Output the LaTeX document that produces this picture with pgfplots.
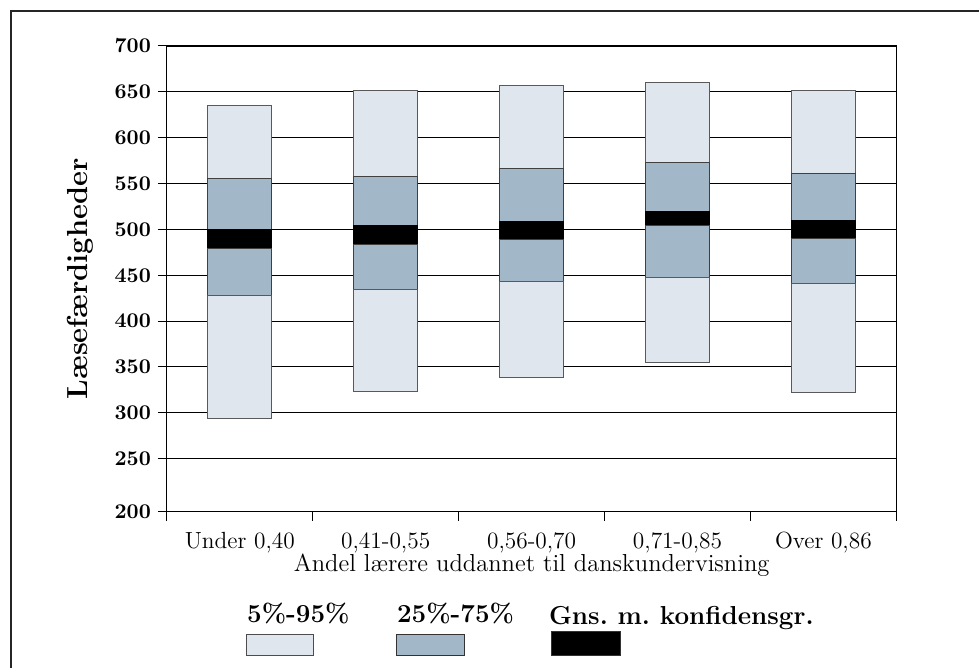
\documentclass[border=0pt]{standalone}
\usepackage{pgfplots}
\usepackage{pgfplotstable}
\pgfplotsset{compat=1.18}

\definecolor{lightbox}{HTML}{DFE6EE}
\definecolor{midbox}{HTML}{A2B8C8}

% percentiles and confidence limits per category
\pgfplotstableread{
x p5 p25 cilo cihi p75 p95
0 294 428 479 500 556 635
1 323 434 484 504 558 651
2 338 443 489 509 566 657
3 355 448 504 519 573 660
4 322 441 490 510 561 651
}\scores

\begin{document}
\frenchspacing
\begin{tikzpicture}
\begin{axis}[
    at={(0,0)}, anchor=south west,
    scale only axis,
    width=365pt, height=233pt,
    xmin=-0.5, xmax=4.5,
    ymin=192.3, ymax=700,
    ybar stacked,
    bar width=32pt,
    xtick={-0.5,0.5,...,4.5},
    xticklabels={},
    extra x ticks={0,1,2,3,4},
    extra x tick labels={{Under 0,40},{0,41-0,55},{0,56-0,70},{0,71-0,85},{Over 0,86}},
    extra x tick style={major tick length=0pt, grid=none,
        xticklabel style={anchor=base, yshift=-18.5pt}},
    ytick={192.3,250,300,350,400,450,500,550,600,650,700},
    yticklabels={200,250,300,350,400,450,500,550,600,650,700},
    yticklabel style={font=\bfseries\fontsize{10.5}{12}\selectfont},
    xticklabel style={font=\fontsize{11.7}{14}\selectfont},
    tick pos=left,
    tick align=outside,
    major tick length=4.5pt,
    tick style={black, line width=0.5pt},
    ymajorgrids=true,
    grid style={black, line width=0.5pt},
    axis line style={black, line width=0.6pt},
    xlabel={Andel lærere uddannet til danskundervisning},
    xlabel style={font=\fontsize{12.3}{14}\selectfont,
        at={(axis description cs:0.5,-0.1288)}, anchor=base},
    ylabel={Læsefærdigheder},
    ylabel style={font=\bfseries\fontsize{14.5}{16}\selectfont,
        at={(axis description cs:-0.119,0.5)}, anchor=center},
]
\addplot[draw=none, fill=none] table[x=x, y=p5] {\scores};
\addplot[fill=lightbox, draw=black!65, line width=0.5pt] table[x=x, y expr=\thisrow{p25}-\thisrow{p5}] {\scores};
\addplot[fill=midbox, draw=black!75, line width=0.5pt] table[x=x, y expr=\thisrow{cilo}-\thisrow{p25}] {\scores};
\addplot[fill=black, draw=black, line width=0.5pt] table[x=x, y expr=\thisrow{cihi}-\thisrow{cilo}] {\scores};
\addplot[fill=midbox, draw=black!75, line width=0.5pt] table[x=x, y expr=\thisrow{p75}-\thisrow{cihi}] {\scores};
\addplot[fill=lightbox, draw=black!65, line width=0.5pt] table[x=x, y expr=\thisrow{p95}-\thisrow{p75}] {\scores};
\end{axis}

% legend
\node[anchor=base west, inner sep=0pt, font=\bfseries\fontsize{13}{15}\selectfont] at (40pt,-55.5pt) {5\%-95\%};
\node[anchor=base west, inner sep=0pt, font=\bfseries\fontsize{13}{15}\selectfont] at (115pt,-55.5pt) {25\%-75\%};
\node[anchor=base west, inner sep=0pt, font=\bfseries\fontsize{13}{15}\selectfont] at (191pt,-56.5pt) {Gns. m. konfidensgr.};
\draw[fill=lightbox, draw=black!70, line width=0.5pt] (40pt,-61.5pt) rectangle (73.5pt,-72pt);
\draw[fill=midbox, draw=black!80, line width=0.5pt] (115pt,-61.5pt) rectangle (149pt,-72pt);
\draw[fill=black, draw=black!80, line width=0.5pt] (192.5pt,-60pt) rectangle (227pt,-72pt);

% outer frame
\draw[black!85, line width=0.7pt] (-78pt,-78pt) -- (-78pt,250.5pt) -- (406.5pt,250.5pt);
\useasboundingbox (-83.5pt,-78pt) rectangle (406.5pt,256pt);
\end{tikzpicture}
\end{document}
